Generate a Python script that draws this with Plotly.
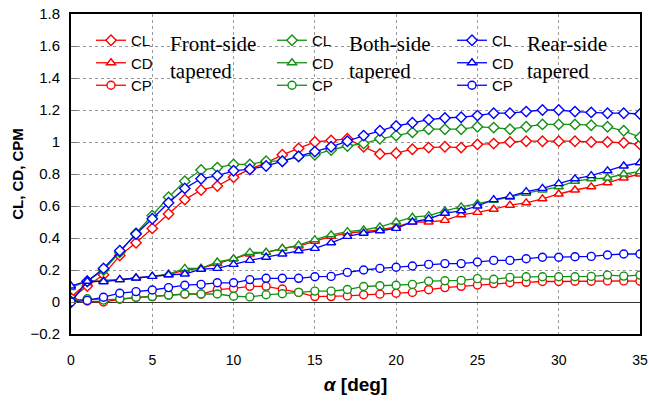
import plotly.graph_objects as go

alpha = list(range(36))

front_cl = [0.02, 0.10, 0.17, 0.29, 0.37, 0.46, 0.55, 0.64, 0.70, 0.725, 0.78, 0.83, 0.87, 0.92, 0.96, 1.0,
            1.01, 1.02, 0.97, 0.925, 0.93, 0.955, 0.965, 0.97, 0.965, 0.985, 0.99, 1.0, 1.005, 1.005, 1.005,
            1.005, 1.0, 1.0, 0.995, 0.985]
front_cd = [0.03, 0.12, 0.135, 0.14, 0.15, 0.16, 0.17, 0.20, 0.21, 0.24, 0.27, 0.30, 0.31, 0.335, 0.35, 0.38,
            0.41, 0.43, 0.44, 0.45, 0.47, 0.50, 0.50, 0.51, 0.545, 0.56, 0.58, 0.605, 0.62, 0.645, 0.675,
            0.70, 0.72, 0.745, 0.775, 0.80]
front_cp = [0.023, 0.006, 0.0, 0.017, 0.028, 0.034, 0.043, 0.049, 0.049, 0.077, 0.085, 0.098, 0.098, 0.081,
            0.06, 0.034, 0.034, 0.038, 0.045, 0.049, 0.055, 0.06, 0.077, 0.09, 0.098, 0.106, 0.115, 0.12,
            0.123, 0.128, 0.128, 0.13, 0.13, 0.132, 0.132, 0.13]

both_cl = [0.0, 0.13, 0.20, 0.31, 0.43, 0.54, 0.655, 0.755, 0.825, 0.84, 0.86, 0.86, 0.88, 0.88, 0.91, 0.92,
           0.95, 0.975, 0.99, 1.02, 1.04, 1.06, 1.08, 1.08, 1.08, 1.095, 1.09, 1.08, 1.095, 1.11, 1.11,
           1.11, 1.105, 1.095, 1.07, 1.03]
both_cd = [0.09, 0.13, 0.13, 0.14, 0.15, 0.16, 0.175, 0.21, 0.21, 0.25, 0.27, 0.31, 0.31, 0.335, 0.356, 0.39,
           0.42, 0.44, 0.45, 0.47, 0.50, 0.53, 0.54, 0.57, 0.595, 0.615, 0.635, 0.655, 0.68, 0.70, 0.72,
           0.755, 0.77, 0.775, 0.80, 0.815]
both_cp = [0.005, 0.02, 0.012, 0.02, 0.03, 0.034, 0.044, 0.05, 0.05, 0.05, 0.036, 0.032, 0.045, 0.052, 0.06,
           0.068, 0.068, 0.078, 0.097, 0.102, 0.105, 0.11, 0.13, 0.133, 0.135, 0.146, 0.142, 0.154, 0.158,
           0.158, 0.158, 0.158, 0.16, 0.168, 0.162, 0.168]

rear_cl = [0.0, 0.13, 0.21, 0.32, 0.425, 0.52, 0.62, 0.71, 0.77, 0.79, 0.82, 0.83, 0.85, 0.88, 0.91, 0.94,
           0.97, 1.005, 1.04, 1.07, 1.10, 1.12, 1.14, 1.15, 1.155, 1.165, 1.18, 1.18, 1.19, 1.2, 1.2, 1.19,
           1.185, 1.18, 1.18, 1.175]
rear_cd = [0.10, 0.13, 0.127, 0.14, 0.15, 0.16, 0.17, 0.175, 0.205, 0.21, 0.235, 0.26, 0.28, 0.30, 0.32,
           0.335, 0.37, 0.41, 0.43, 0.445, 0.46, 0.50, 0.52, 0.555, 0.57, 0.60, 0.64, 0.66, 0.69, 0.71, 0.74,
           0.77, 0.79, 0.82, 0.85, 0.87]
rear_cp = [0.0, 0.01, 0.03, 0.055, 0.065, 0.075, 0.09, 0.105, 0.11, 0.12, 0.12, 0.14, 0.148, 0.148, 0.148,
           0.158, 0.16, 0.185, 0.2, 0.21, 0.217, 0.225, 0.235, 0.24, 0.24, 0.25, 0.26, 0.26, 0.27, 0.28,
           0.28, 0.283, 0.285, 0.294, 0.30, 0.30]

series_names = ["CL", "CD", "CP"]
groups = [
    ("legend", "#FF0000", [front_cl, front_cd, front_cp], "Front-side<br>tapered"),
    ("legend2", "#149114", [both_cl, both_cd, both_cp], "Both-side<br>tapered"),
    ("legend3", "#0000FF", [rear_cl, rear_cd, rear_cp], "Rear-side<br>tapered"),
]
symbols = ["diamond", "triangle-up", "circle"]

fig = go.Figure()
for leg, color, data, _ in groups:
    for name, sym, vals in zip(series_names, symbols, data):
        fig.add_trace(go.Scatter(
            x=alpha, y=vals, name=name, mode="lines+markers", legend=leg,
            line=dict(color=color, width=1.3),
            marker=dict(symbol=sym, size=8, color="white", line=dict(color=color, width=1.4)),
        ))

PL, PR, PT, PB = 71, 640, 14, 334


def px_x(p):
    return (p - PL) / (PR - PL)


def px_y(p):
    return (PB - p) / (PB - PT)


legend_style = dict(font=dict(family="Liberation Sans Narrow, Liberation Sans", size=15, color="black"),
                    bgcolor="rgba(0,0,0,0)", xanchor="left", yanchor="top", itemwidth=30, tracegroupgap=0)
fig.update_layout(
    legend=dict(x=px_x(91), y=px_y(24), **legend_style),
    legend2=dict(x=px_x(272), y=px_y(24), **legend_style),
    legend3=dict(x=px_x(452), y=px_y(24), **legend_style),
)

label_x = [168, 347, 525]
for (leg, color, data, txt), lx in zip(groups, label_x):
    fig.add_annotation(text=txt, xref="paper", yref="paper", x=px_x(lx), y=px_y(30),
                       xanchor="left", yanchor="top", showarrow=False, align="left",
                       font=dict(family="Liberation Serif", size=21, color="black"))

fig.update_layout(
    width=649, height=403,
    margin=dict(l=PL, r=649 - PR, t=PT, b=403 - PB, autoexpand=False),
    plot_bgcolor="white", paper_bgcolor="white",
    showlegend=True,
    font=dict(family="Liberation Sans Narrow, Liberation Sans", color="black"),
    xaxis=dict(range=[0, 35], dtick=5, tick0=0, showgrid=True, gridcolor="#999999", griddash="dot",
               gridwidth=1, showline=True, linecolor="black", linewidth=1.5, mirror=True,
               ticks="", tickfont=dict(size=14), ticklabelstandoff=12,
               title=dict(text="<i>α</i> [deg]", font=dict(family="Liberation Sans", size=19, weight="bold"),
                          standoff=11),
               zeroline=False),
    yaxis=dict(range=[-0.2, 1.8], dtick=0.2, tick0=-0.2, showgrid=True, gridcolor="#999999", griddash="dot",
               gridwidth=1, showline=True, linecolor="black", linewidth=2, mirror=True,
               ticks="inside", ticklen=6, tickcolor="#777777", tickfont=dict(size=15), ticklabelstandoff=6,
               title=dict(text="CL, CD, CPM", font=dict(family="Liberation Sans", size=15, weight="bold"),
                          standoff=3),
               zeroline=True, zerolinecolor="#333333", zerolinewidth=1.2),
)

fig.write_html("out.html")
